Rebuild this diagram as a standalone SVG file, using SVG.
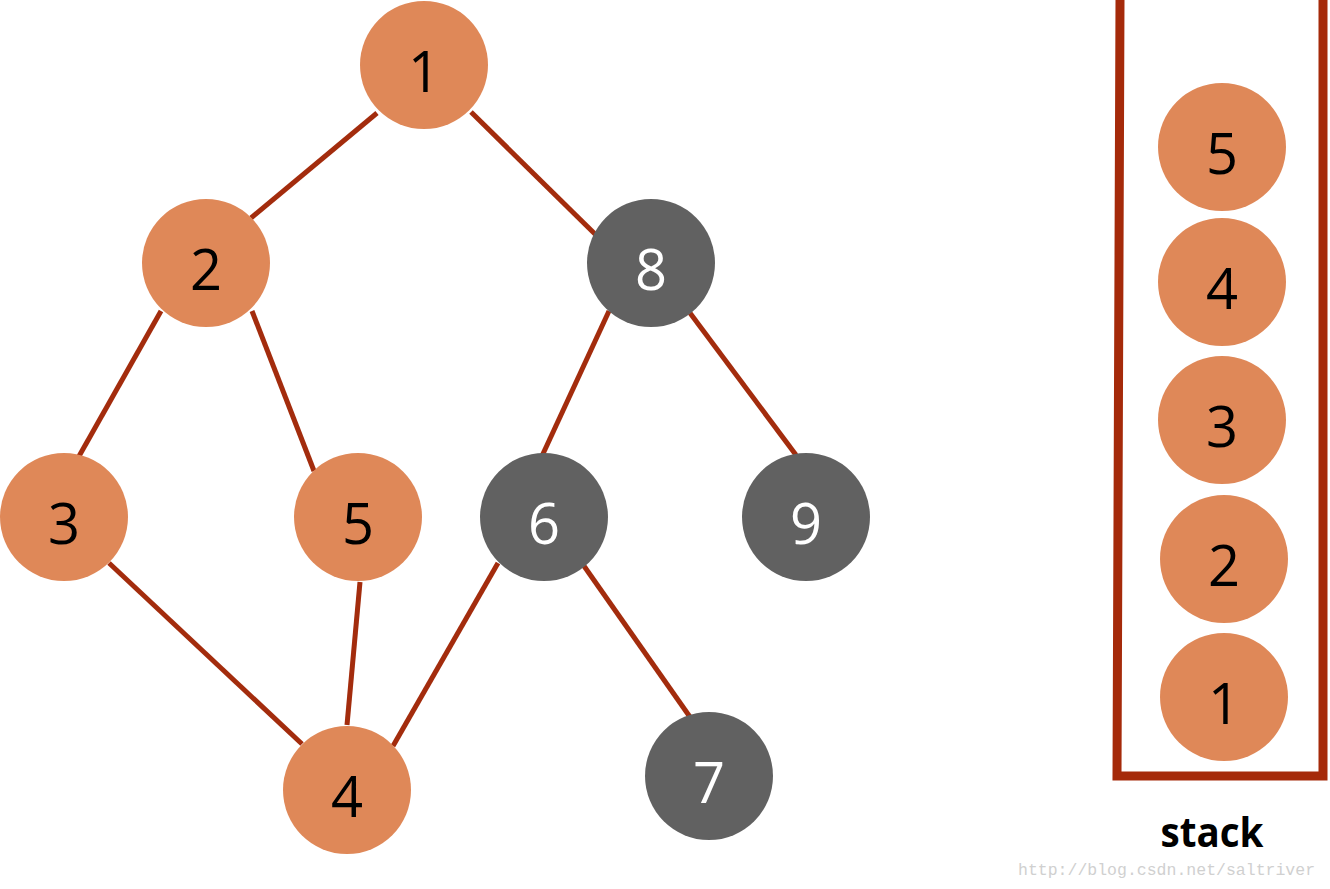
<svg xmlns="http://www.w3.org/2000/svg" width="1330" height="889" viewBox="0 0 1330 889">
<style>
.edge{stroke:#A32C0D;stroke-width:5;fill:none;stroke-linecap:butt}
.wall{stroke:#A52A0A;stroke-width:9;fill:none}
.o{fill:#DF8858}
.g{fill:#616161}
.t{font-family:"Open Sans","Noto Sans",sans-serif;font-size:56px;text-anchor:middle}
.tb{fill:#000000}
.tw{fill:#FFFFFF}
.lbl{font-family:"Open Sans","Noto Sans",sans-serif;font-size:42px;font-weight:bold;text-anchor:middle;fill:#000}
.wm{font-family:"Liberation Mono",monospace;font-size:16.5px;fill:#D0D0D0}
</style>
<rect width="1330" height="889" fill="#FFFFFF"/>
<g id="connectors">
<line class="edge" x1="377" y1="113" x2="251" y2="218"/>
<line class="edge" x1="471" y1="112" x2="597" y2="236"/>
<line class="edge" x1="161" y1="311" x2="78" y2="458"/>
<line class="edge" x1="252" y1="311" x2="314" y2="471"/>
<line class="edge" x1="609" y1="311" x2="542" y2="456"/>
<line class="edge" x1="690" y1="313" x2="796" y2="455"/>
<line class="edge" x1="109" y1="563" x2="302" y2="744"/>
<line class="edge" x1="360" y1="582" x2="347" y2="725"/>
<line class="edge" x1="498" y1="563" x2="393" y2="746"/>
<line class="edge" x1="584" y1="566" x2="690" y2="717"/>
</g>
<g id="node1"><circle class="o" cx="424" cy="65" r="64"/><text class="t tb" x="424" y="92">1</text></g>
<g id="node2"><circle class="o" cx="206" cy="263" r="64"/><text class="t tb" x="206" y="290">2</text></g>
<g id="node8"><circle class="g" cx="651" cy="263" r="64"/><text class="t tw" x="651" y="290">8</text></g>
<g id="node3"><circle class="o" cx="64" cy="517" r="64"/><text class="t tb" x="64" y="544">3</text></g>
<g id="node5"><circle class="o" cx="358" cy="517" r="64"/><text class="t tb" x="358" y="544">5</text></g>
<g id="node6"><circle class="g" cx="544" cy="517" r="64"/><text class="t tw" x="544" y="544">6</text></g>
<g id="node9"><circle class="g" cx="806" cy="517" r="64"/><text class="t tw" x="806" y="544">9</text></g>
<g id="node4"><circle class="o" cx="347" cy="790" r="64"/><text class="t tb" x="347" y="817">4</text></g>
<g id="node7"><circle class="g" cx="709" cy="776" r="64"/><text class="t tw" x="709" y="803">7</text></g>
<g id="stack">
<polyline class="wall" points="1120,0 1117,776 1323,776 1323,0"/>
<text class="lbl" x="1212" y="847" textLength="103" lengthAdjust="spacingAndGlyphs">stack</text>
</g>
<g id="stack5"><circle class="o" cx="1222" cy="147" r="64"/><text class="t tb" x="1222" y="174">5</text></g>
<g id="stack4"><circle class="o" cx="1222" cy="282" r="64"/><text class="t tb" x="1222" y="309">4</text></g>
<g id="stack3"><circle class="o" cx="1222" cy="420" r="64"/><text class="t tb" x="1222" y="447">3</text></g>
<g id="stack2"><circle class="o" cx="1224" cy="559" r="64"/><text class="t tb" x="1224" y="586">2</text></g>
<g id="stack1"><circle class="o" cx="1224" cy="697" r="64"/><text class="t tb" x="1224" y="724">1</text></g>
<text class="wm" x="1018" y="875">http://blog.csdn.net/saltriver</text>
</svg>
